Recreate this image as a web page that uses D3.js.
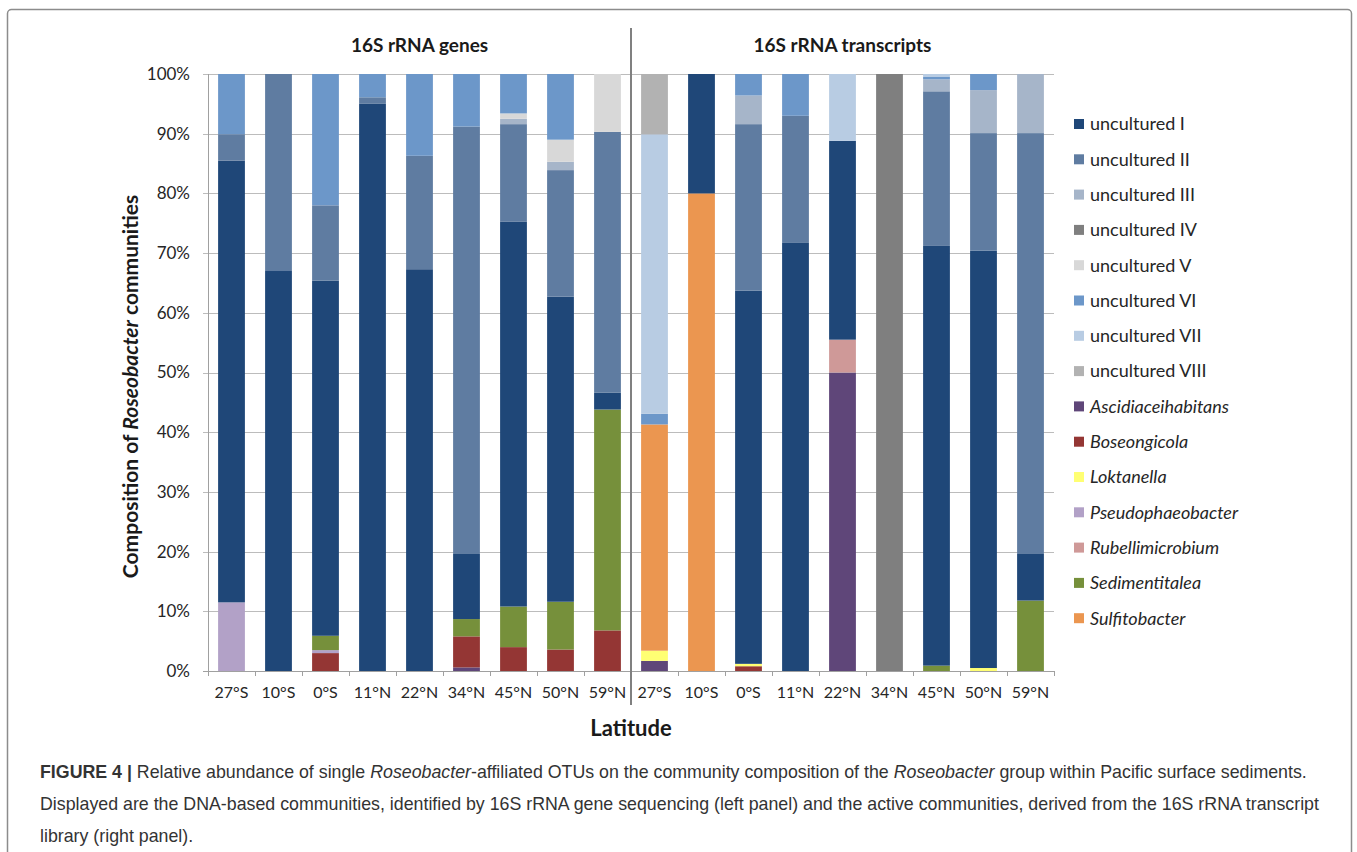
<!DOCTYPE html>
<html>
<head>
<meta charset="utf-8">
<title>Roseobacter communities</title>
<script src="https://d3js.org/d3.v7.min.js"></script>
<style>
  body { margin: 0; background: #fff; }
  svg { display: block; }
</style>
</head>
<body>
<svg width="1357" height="852"></svg>
<script>
// latitudes, first the 9 gene samples then the 9 transcript samples
var latitudes = ["27°S", "10°S", "0°S", "11°N", "22°N", "34°N", "45°N", "50°N", "59°N",
                 "27°S", "10°S", "0°S", "11°N", "22°N", "34°N", "45°N", "50°N", "59°N"];
var panels = ["16S rRNA genes", "16S rRNA transcripts"];
var yTicks = [0, 10, 20, 30, 40, 50, 60, 70, 80, 90, 100];

// percent per sample (genes | transcripts)
var unculturedI    = [74.0, 67.0, 59.5, 95.0, 67.3, 10.9, 64.5, 51.1,  2.8,   0, 20.0, 62.5, 71.7, 33.3,   0, 70.3, 69.9,  7.8];
var unculturedII   = [ 4.4, 33.0, 12.6,  1.1, 19.0, 71.6, 16.3, 21.2, 43.7,   0,    0, 27.9, 21.3,    0,   0, 25.9, 19.7, 70.5];
var unculturedIII  = [   0,    0,    0,    0,    0,    0,  0.9,  1.4,    0,   0,    0,  4.8,    0,    0,   0,  2.0,  7.2,  9.9];
var unculturedIV   = [   0,    0,    0,    0,    0,    0,    0,    0,    0,   0,    0,    0,    0,    0, 100,    0,    0,    0];
var unculturedV    = [   0,    0,    0,    0,    0,    0,  0.9,  3.7,  9.7,   0,    0,    0,    0,    0,   0,    0,    0,    0];
var unculturedVI   = [10.1,    0, 22.0,  3.9, 13.7,  8.8,  6.6, 11.0,    0, 1.8,    0,  3.6,  7.0,    0,   0,  0.4,  2.7,    0];
var unculturedVII  = [   0,    0,    0,    0,    0,    0,    0,    0,    0,46.8,    0,    0,    0, 11.2,   0,  0.5,    0,    0];
var unculturedVIII = [   0,    0,    0,    0,    0,    0,    0,    0,    0,10.1,    0,    0,    0,    0,   0,    0,    0,    0];
var ascidiaceihabitans = [0,  0,    0,    0,    0,  0.6,    0,    0,    0, 1.7,    0,    0,    0, 50.0,   0,    0,    0,    0];
var boseongicola   = [   0,    0,  3.0,    0,    0,  5.2,  4.0,  3.6,  6.8,   0,    0,  0.8,    0,    0,   0,    0,    0,    0];
var loktanella     = [   0,    0,    0,    0,    0,    0,    0,    0,    0, 1.7,    0,  0.4,    0,    0,   0,    0,  0.5,    0];
var pseudophaeobacter = [11.5, 0,  0.5,    0,    0,    0,    0,    0,    0,   0,    0,    0,    0,    0,   0,    0,    0,    0];
var rubellimicrobium = [ 0,    0,    0,    0,    0,    0,    0,    0,    0,   0,    0,    0,    0,  5.5,   0,    0,    0,    0];
var sedimentitalea = [   0,    0,  2.4,    0,    0,  2.9,  6.8,  8.0, 37.0,   0,    0,    0,    0,    0,   0,  0.9,    0, 11.8];
var sulfitobacter  = [   0,    0,    0,    0,    0,    0,    0,    0,    0,37.9, 80.0,    0,    0,    0,   0,    0,    0,    0];

var series = [
  {name: "uncultured I",       values: unculturedI,        color: "#1f4778", italic: false},
  {name: "uncultured II",      values: unculturedII,       color: "#5f7ca1", italic: false},
  {name: "uncultured III",     values: unculturedIII,      color: "#a6b5c9", italic: false},
  {name: "uncultured IV",      values: unculturedIV,       color: "#7f7f7f", italic: false},
  {name: "uncultured V",       values: unculturedV,        color: "#d8d8d8", italic: false},
  {name: "uncultured VI",      values: unculturedVI,       color: "#6c97c9", italic: false},
  {name: "uncultured VII",     values: unculturedVII,      color: "#b8cce3", italic: false},
  {name: "uncultured VIII",    values: unculturedVIII,     color: "#b2b2b2", italic: false},
  {name: "Ascidiaceihabitans", values: ascidiaceihabitans, color: "#5f4679", italic: true},
  {name: "Boseongicola",       values: boseongicola,       color: "#943634", italic: true},
  {name: "Loktanella",         values: loktanella,         color: "#ffff73", italic: true},
  {name: "Pseudophaeobacter",  values: pseudophaeobacter,  color: "#b2a1c7", italic: true},
  {name: "Rubellimicrobium",   values: rubellimicrobium,   color: "#cf9998", italic: true},
  {name: "Sedimentitalea",     values: sedimentitalea,     color: "#76903b", italic: true},
  {name: "Sulfitobacter",      values: sulfitobacter,      color: "#eb9650", italic: true}
];

var svg = d3.select("svg"),
    font = "Lato, 'Open Sans', sans-serif",
    plotLeft = 208, plotRight = 1054, plotTop = 74, plotBottom = 671;

// outer frame
svg.append("rect")
    .attr("x", 7.5).attr("y", 9.5)
    .attr("width", 1344).attr("height", 900)
    .attr("rx", 4)
    .attr("fill", "none").attr("stroke", "#8c8c8c").attr("stroke-width", 1.5);

var x = d3.scaleBand().domain(d3.range(latitudes.length)).range([plotLeft, plotRight])
    .paddingInner(0.43).paddingOuter(0.215);
var y = d3.scaleLinear().domain([0, 100]).range([plotBottom, plotTop]);
var step = x.step();

var table = latitudes.map(function(lat, i) {
  var row = {i: i};
  series.forEach(function(s) { row[s.name] = s.values[i]; });
  return row;
});

// Excel-style stacking: genera at the bottom, then the uncultured groups
var stackKeys = series.slice(8).concat(series.slice(0, 8)).map(function(s) { return s.name; });
var color = d3.scaleOrdinal().domain(series.map(function(s) { return s.name; }))
    .range(series.map(function(s) { return s.color; }));

var g = svg.append("g");

// gridlines
g.append("g").selectAll("line")
  .data(yTicks)
  .enter().append("line")
    .attr("x1", plotLeft - 5).attr("x2", plotRight)
    .attr("y1", function(d) { return Math.round(y(d)) + 0.5; })
    .attr("y2", function(d) { return Math.round(y(d)) + 0.5; })
    .attr("stroke", function(d) { return d === 0 ? "#a0a0a0" : "#bcbcbc"; })
    .attr("stroke-width", 1);

g.append("line")
    .attr("x1", plotLeft + 0.5).attr("x2", plotLeft + 0.5)
    .attr("y1", plotTop).attr("y2", plotBottom + 5)
    .attr("stroke", "#a0a0a0");

// x ticks at category boundaries
g.append("g").selectAll("line")
  .data(d3.range(1, latitudes.length + 1))
  .enter().append("line")
    .attr("x1", function(d) { return plotLeft + d * step + 0.5; })
    .attr("x2", function(d) { return plotLeft + d * step + 0.5; })
    .attr("y1", plotBottom).attr("y2", plotBottom + 5)
    .attr("stroke", "#a0a0a0");

// bars
g.append("g")
  .selectAll("g")
  .data(d3.stack().keys(stackKeys)(table))
  .enter().append("g")
    .attr("fill", function(d) { return color(d.key); })
  .selectAll("rect")
  .data(function(d) { return d; })
  .enter().append("rect")
    .attr("x", function(d) { return x(d.data.i); })
    .attr("width", x.bandwidth())
    .attr("y", function(d) { return y(d[1]); })
    .attr("height", function(d) { return y(d[0]) - y(d[1]); });

// divider between the two panels
svg.append("line")
    .attr("x1", plotLeft + 9 * step).attr("x2", plotLeft + 9 * step)
    .attr("y1", 28).attr("y2", 705)
    .attr("stroke", "#808080").attr("stroke-width", 2);

// y tick labels
g.append("g").selectAll("text")
  .data(yTicks)
  .enter().append("text")
    .attr("x", 190)
    .attr("y", function(d) { return y(d); })
    .attr("dy", "0.35em")
    .attr("text-anchor", "end")
    .attr("font-family", font).attr("font-size", 17).attr("fill", "#262626")
    .text(function(d) { return d + "%"; });

// x tick labels
g.append("g").selectAll("text")
  .data(latitudes)
  .enter().append("text")
    .attr("x", function(d, i) { return x(i) + x.bandwidth() / 2; })
    .attr("y", 692)
    .attr("dy", "0.35em")
    .attr("text-anchor", "middle")
    .attr("font-family", font).attr("font-size", 16).attr("fill", "#262626")
    .text(function(d) { return d; });

// panel titles
svg.selectAll(".panel")
  .data(panels)
  .enter().append("text")
    .attr("x", function(d, i) { return plotLeft + (i * 9 + 4.5) * step; })
    .attr("y", 45)
    .attr("dy", "0.35em")
    .attr("text-anchor", "middle")
    .attr("font-family", font).attr("font-size", 19).attr("font-weight", "bold").attr("fill", "#1a1a1a")
    .text(function(d) { return d; });

// axis titles
svg.append("text")
    .attr("x", plotLeft + 9 * step).attr("y", 728)
    .attr("dy", "0.35em")
    .attr("text-anchor", "middle")
    .attr("font-family", font).attr("font-size", 22).attr("font-weight", "bold").attr("fill", "#1a1a1a")
    .text("Latitude");

var yt = svg.append("text")
    .attr("transform", "translate(131," + ((plotTop + plotBottom) / 2 + 14) + ")rotate(-90)")
    .attr("dy", "0.35em")
    .attr("text-anchor", "middle")
    .attr("font-family", font).attr("font-size", 21).attr("font-weight", "bold").attr("fill", "#1a1a1a");
yt.append("tspan").text("Composition of ");
yt.append("tspan").attr("font-style", "italic").text("Roseobacter");
yt.append("tspan").text(" communities");

// legend
var legend = svg.append("g")
  .selectAll("g")
  .data(series)
  .enter().append("g")
    .attr("transform", function(d, i) { return "translate(1074," + (124 + i * 35.3) + ")"; });

legend.append("rect")
    .attr("y", -5).attr("width", 10).attr("height", 10)
    .attr("fill", function(d) { return d.color; });

legend.append("text")
    .attr("x", 16)
    .attr("dy", "0.35em")
    .attr("font-family", font).attr("font-size", 18).attr("fill", "#262626")
    .attr("font-style", function(d) { return d.italic ? "italic" : "normal"; })
    .text(function(d) { return d.name; });

// caption
var capFont = "'Liberation Sans', Arial, sans-serif";
var caption = [
  [["FIGURE 4 | ", "b"], ["Relative abundance of single ", ""], ["Roseobacter", "i"],
   ["-affiliated OTUs on the community composition of the ", ""], ["Roseobacter", "i"],
   [" group within Pacific surface sediments.", ""]],
  [["Displayed are the DNA-based communities, identified by 16S rRNA gene sequencing (left panel) and the active communities, derived from the 16S rRNA transcript", ""]],
  [["library (right panel).", ""]]
];
caption.forEach(function(line, i) {
  var t = svg.append("text")
      .attr("x", 40).attr("y", 778 + i * 32)
      .attr("font-family", capFont).attr("font-size", 17.8).attr("fill", "#333");
  line.forEach(function(p) {
    t.append("tspan")
        .attr("font-weight", p[1] === "b" ? "bold" : "normal")
        .attr("font-style", p[1] === "i" ? "italic" : "normal")
        .text(p[0]);
  });
});
</script>
</body>
</html>
